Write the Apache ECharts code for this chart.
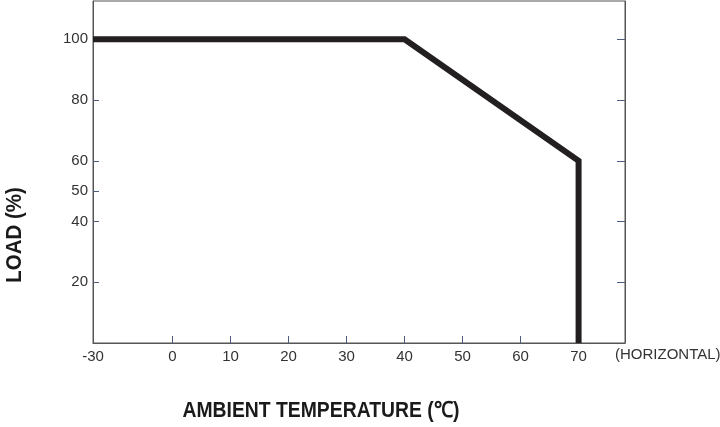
<!DOCTYPE html>
<html>
<head>
<meta charset="utf-8">
<script src="https://cdn.jsdelivr.net/npm/echarts@6/dist/echarts.min.js"></script>
<style>
html,body{margin:0;padding:0;background:#fff;}
#chart{width:720px;height:427px;}
</style>
</head>
<body>
<div id="chart"></div>
<script>
// Data
var temps = [-30, 40, 70, 70];
var loads = [100, 100, 60, 0];
var xTickTemps = [-30, 0, 10, 20, 30, 40, 50, 60, 70];
var xTickLabels = ['-30', '0', '10', '20', '30', '40', '50', '60', '70'];
var yTickValues = [20, 40, 50, 60, 80, 100];
var yRightTicks = [20, 40, 60, 80, 100];
var xTitle = 'AMBIENT TEMPERATURE (℃)';
var yTitle = 'LOAD (%)';
var xNote = '(HORIZONTAL)';

// Axis break: the -30..0 range is compressed on the drawing
var BREAK_SPAN = 13.7;
function xPos(t) { return t < 0 ? t * BREAK_SPAN / 30 : t; }

var xTickPos = xTickTemps.map(xPos);
var seriesData = temps.map(function (t, i) { return [xPos(t), loads[i]]; });

var font = '"Liberation Sans",Arial,sans-serif';
var axisColor = '#555';
var tickColor = '#4d5a80';

var chart = echarts.init(document.getElementById('chart'));
chart.setOption({
  animation: false,
  grid: { left: 93, right: 95, top: 1, bottom: 84, show: true, borderColor: axisColor, borderWidth: 1, outerBoundsMode: 'none', containLabel: false },
  xAxis: {
    type: 'value',
    min: xPos(-30),
    max: 78,
    splitLine: { show: false },
    axisLine: { show: true, onZero: false, lineStyle: { color: axisColor, width: 1 } },
    axisTick: { show: true, inside: true, length: 7, customValues: xTickPos.slice(1), lineStyle: { color: tickColor } },
    axisLabel: {
      customValues: xTickPos,
      margin: 6,
      color: '#333',
      fontFamily: font,
      fontSize: 15,
      formatter: function (v) {
        for (var i = 0; i < xTickPos.length; i++) if (Math.abs(xTickPos[i] - v) < 1e-6) return xTickLabels[i];
        return '';
      }
    }
  },
  yAxis: [{
    type: 'value',
    min: 0,
    max: 112.6,
    position: 'left',
    splitLine: { show: false },
    axisLine: { show: true, onZero: false, lineStyle: { color: axisColor, width: 1 } },
    axisTick: { show: true, inside: true, length: 6, customValues: yTickValues, lineStyle: { color: tickColor } },
    axisLabel: { customValues: yTickValues, margin: 5, color: '#333', fontFamily: font, fontSize: 15 }
  }, {
    type: 'value',
    min: 0,
    max: 112.6,
    position: 'right',
    splitLine: { show: false },
    axisLine: { show: true, onZero: false, lineStyle: { color: axisColor, width: 1 } },
    axisTick: { show: true, inside: true, length: 8, customValues: yRightTicks, lineStyle: { color: tickColor } },
    axisLabel: { show: false }
  }],
  graphic: [{
    type: 'text',
    x: 615,
    y: 355,
    style: { text: xNote, fill: '#333', font: '15px ' + font, verticalAlign: 'middle' }
  }, {
    type: 'text',
    x: 321,
    y: 411,
    scaleX: 0.88,
    style: { text: xTitle, fill: '#1a1a1a', font: 'bold 22px ' + font, align: 'center', verticalAlign: 'middle' }
  }, {
    type: 'text',
    x: 15,
    y: 235,
    rotation: Math.PI / 2,
    scaleX: 0.93,
    style: { text: yTitle, fill: '#1a1a1a', font: 'bold 22px ' + font, align: 'center', verticalAlign: 'middle' }
  }],
  series: [{
    type: 'line',
    data: seriesData,
    symbol: 'none',
    lineStyle: { color: '#231f20', width: 6, join: 'miter', cap: 'butt' }
  }]
});
</script>
</body>
</html>
